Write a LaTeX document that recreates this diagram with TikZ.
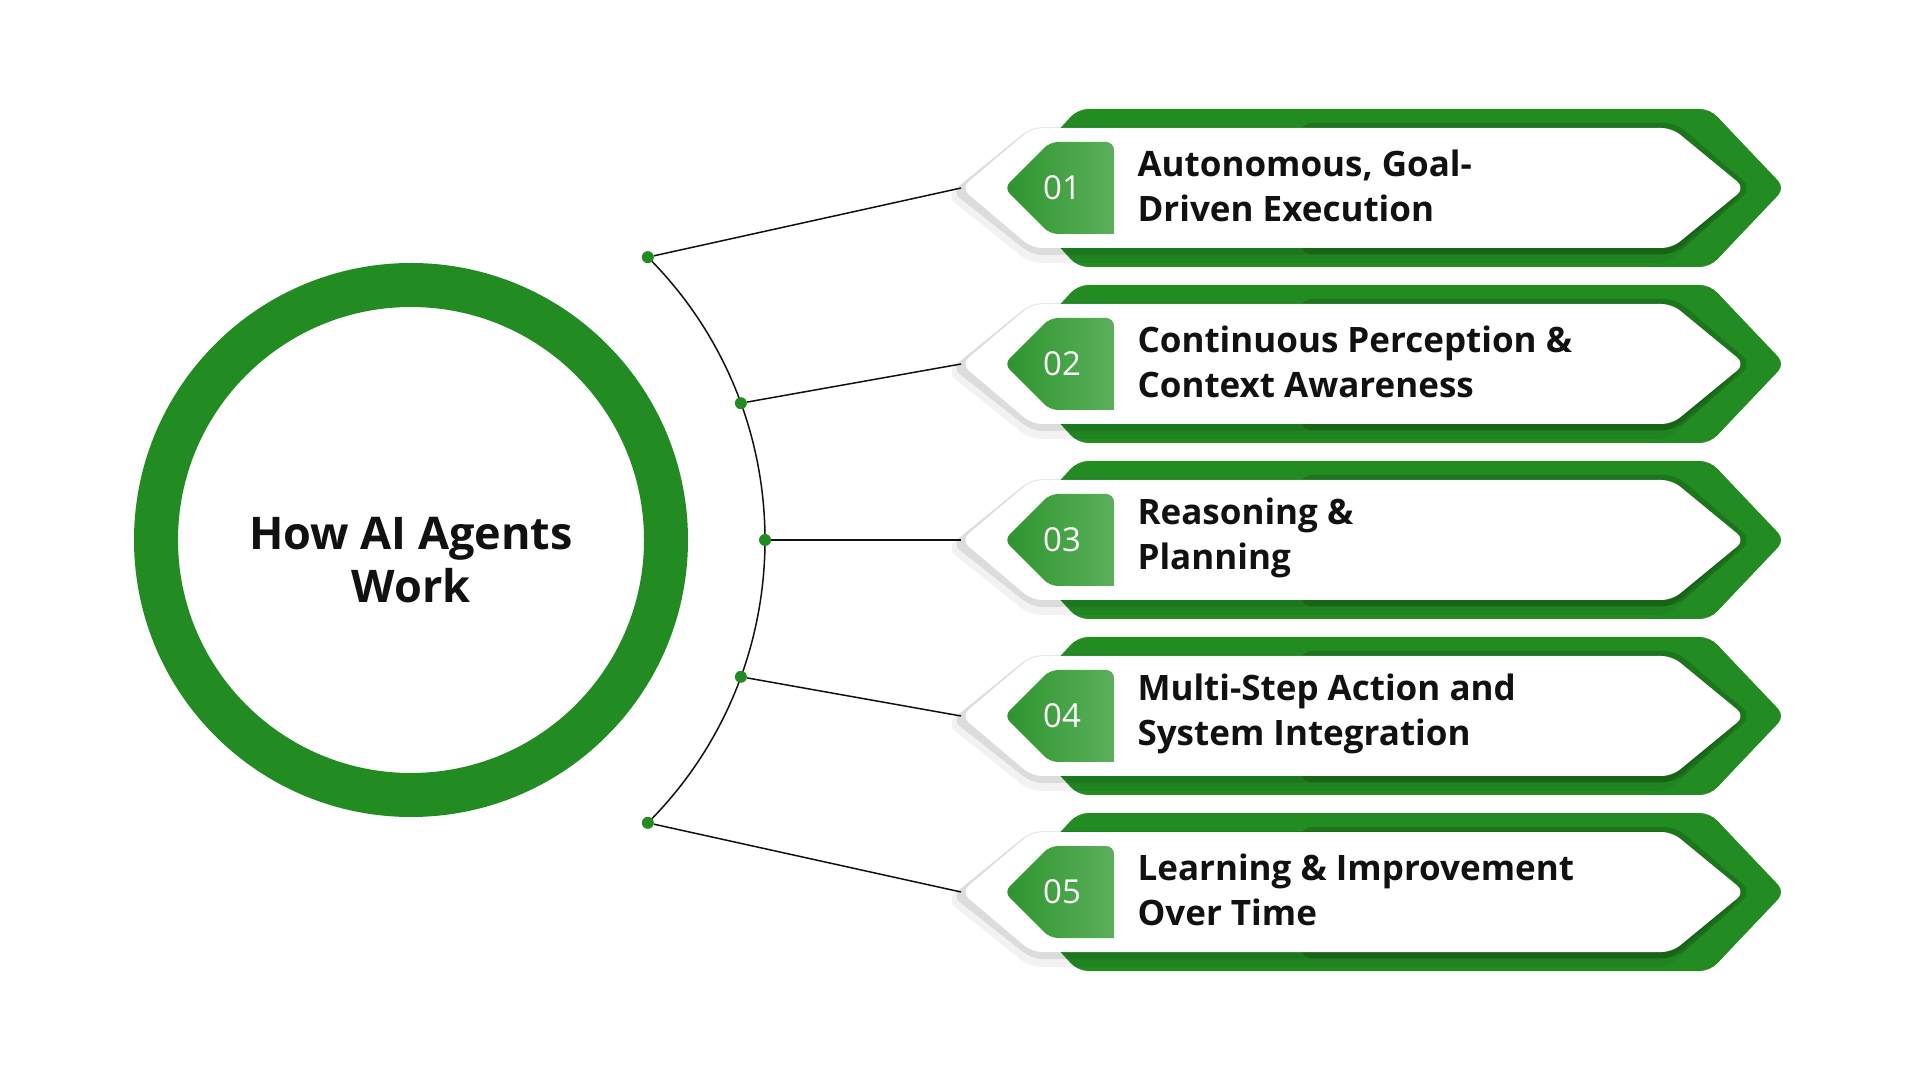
\documentclass[tikz,border=0pt]{standalone}
\usepackage{fontspec}
\setmainfont{Open Sans}
\usetikzlibrary{positioning,calc}
\definecolor{agentgreen}{RGB}{34,139,34}
\definecolor{tabdark}{RGB}{44,148,44}
\definecolor{tablight}{RGB}{92,176,92}
\definecolor{inkblack}{RGB}{17,17,17}
\tikzset{
    ring/.style={draw=agentgreen, line width=44pt},
    hubdot/.style={circle, fill=agentgreen, inner sep=0pt, minimum size=12pt},
    link/.style={draw=inkblack, line width=1.5pt},
    title/.style={align=center, text=inkblack, font=\fontsize{45}{53}\selectfont\bfseries},
    numtxt/.style={text=white, font=\fontsize{33}{33}\selectfont},
    steptxt/.style={anchor=west, align=left, text=inkblack,
                    font=\fontsize{35}{45}\selectfont\bfseries},
    pics/banner/.style n args={2}{code={
        % green back plate
        \fill[agentgreen, rounded corners=10pt]
            (1005,0) -- (1078,79) -- (1710,79) -- (1785,0) -- (1710,-79) -- (1078,-79) -- cycle;
        % soft shadow of the white plate
        \fill[black!60!agentgreen, opacity=0.25, rounded corners=12pt]
            (1300,65) -- (1676,65) -- (1752,0) -- (1676,-66) -- (1300,-66) -- cycle;
        \fill[black, opacity=0.05, rounded corners=12pt]
            (946,-8) -- (1030,60) -- (1668,60) -- (1740,-8) -- (1668,-75) -- (1030,-75) -- cycle;
        \fill[black, opacity=0.09, rounded corners=10pt]
            (952,-4) -- (1032,61) -- (1670,61) -- (1742,-4) -- (1670,-67) -- (1032,-67) -- cycle;
        % white plate
        \fill[white, rounded corners=10pt]
            (961,0) -- (1032,60) -- (1672,60) -- (1745,0) -- (1672,-60) -- (1032,-60) -- cycle;
        % number tab
        \shade[left color=tabdark, right color=tablight, rounded corners=8pt]
            (1004,0) -- (1050,46) -- (1114,46) [sharp corners] -- (1114,-46) [rounded corners=8pt] -- (1050,-46) -- cycle;
        \node[numtxt] (-num) at (1062,0) {#1};
        \node[steptxt] (-txt) at (1134,2) {#2};
        \coordinate (-tip) at (961,0);
    }},
}
\begin{document}
\begin{tikzpicture}[x=1pt, y=1pt]
    \useasboundingbox[fill=white] (0,0) rectangle (1920,1080);

    \draw[ring] (411,540) circle[radius=255];
    \node[title] (hub) at (411,520) {How AI Agents\\Work};

    \coordinate (arcc) at (365,540);
    \draw[link] ([shift={(45:400)}]arcc) arc[start angle=45, end angle=-45, radius=400];
    \node[hubdot] (d1) at ([shift={(45:400)}]arcc) {};
    \node[hubdot] (d2) at ([shift={(20:400)}]arcc) {};
    \node[hubdot] (d3) at ([shift={(0:400)}]arcc) {};
    \node[hubdot] (d4) at ([shift={(-20:400)}]arcc) {};
    \node[hubdot] (d5) at ([shift={(-45:400)}]arcc) {};

    \pic (b1) at (0,892) {banner={01}{Autonomous, Goal-\\Driven Execution}};
    \pic (b2) at (0,716) {banner={02}{Continuous Perception \&\\Context Awareness}};
    \pic (b3) at (0,540) {banner={03}{Reasoning \&\\Planning}};
    \pic (b4) at (0,364) {banner={04}{Multi-Step Action and\\System Integration}};
    \pic (b5) at (0,188) {banner={05}{Learning \& Improvement\\Over Time}};

    \draw[link] (d1) -- (b1-tip);
    \draw[link] (d2) -- (b2-tip);
    \draw[link] (d3) -- (b3-tip);
    \draw[link] (d4) -- (b4-tip);
    \draw[link] (d5) -- (b5-tip);
\end{tikzpicture}
\end{document}
